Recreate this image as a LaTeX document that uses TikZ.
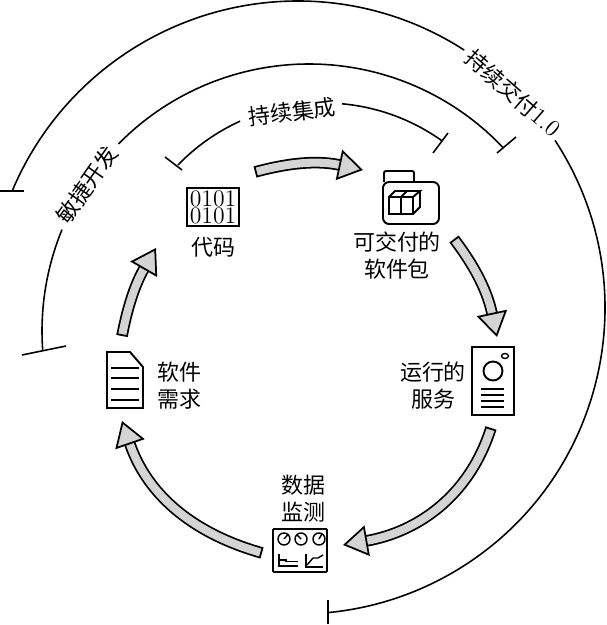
\documentclass[tikz,border=0pt]{standalone}
\usepackage{fontspec}
\usepackage{amsmath}
\usetikzlibrary{arrows.meta}
\newfontfamily\cjk{Noto Sans CJK SC}
\definecolor{flowgray}{gray}{0.83}
\tikzset{
	ring/.style={line width=0.9pt},
	icon/.style={line width=1.1pt},
	thin icon/.style={line width=0.8pt},
	label/.style={font=\cjk\fontsize{12.5}{15}\selectfont, inner sep=0pt, align=center},
	flowarrow/.style={line width=1pt, double=flowgray, double distance=4.6pt,
		{Bar[width=6.6pt,line width=1pt]}-{Triangle[length=14pt,width=17.5pt,fill=flowgray,line width=1pt]}}
}
\begin{document}
\begin{tikzpicture}[x=0.02cm,y=0.02cm]
	\useasboundingbox (0,0) rectangle (607,625);
	
	% Outer rings
	\coordinate (outerc) at (298,314);
	\coordinate (outerd) at (299,317);
	\coordinate (midc) at (309,294);
	\coordinate (innerc) at (324,319);
	\draw[ring] (outerc) ++(157.2:310) arc[start angle=157.2,end angle=90,radius=310] arc[start angle=90,end angle=57.1,radius=306];
	\draw[ring] (outerd) ++(33.2:306) arc[start angle=33.2,end angle=-84.5,radius=306];
	\draw[ring] (midc) ++(184.1:267) arc[start angle=184.1,end angle=157.7,radius=267];
	\draw[ring] (midc) ++(135.5:267) arc[start angle=135.5,end angle=43.5,radius=267];
	\draw[ring] (innerc) ++(136:203) arc[start angle=136,end angle=114.4,radius=203];
	\draw[ring] (innerc) ++(84.9:203) arc[start angle=84.9,end angle=54.4,radius=203];
	
	% Ring ends
	\draw[ring] (0,434) -- (24,434);
	\draw[ring] (328,25) -- (328,1);
	\draw[ring] (22,270) -- (66,279);
	\draw[ring] (497,472) -- (516,488);
	\draw[ring] (165,468) -- (182,455);
	\draw[ring] (448,492) -- (433,472);
	
	% Ring labels
	\node[label, rotate=7] (cilabel) at (292,513) {持续集成};
	\node[label, rotate=55] (agilelabel) at (87,440) {敏捷开发};
	\node[label, rotate=-41] (cdlabel) at (513,532) {持续交付\rmfamily\fontsize{13.5}{15}\selectfont 1.0};
	
	% Code
	\node[draw, icon, minimum width=1.04cm, minimum height=0.76cm, inner sep=0pt, align=center,
		font=\fontsize{13.5}{9.6}\selectfont] (code) at (213,418) {0101\\0101};
	\node[label] (codelabel) at (213,378) {代码};
	
	% Package
	\node[draw, icon, rounded corners=0.12cm, minimum width=1.12cm, minimum height=0.84cm] (pkg) at (411,422) {};
	\draw[icon, rounded corners=0.04cm] (384,443) -- (384,454) -- (414,454) -- (414,443);
	\draw[icon] (389,411) rectangle (413,428);
	\draw[icon] (389,428) -- (395,434) -- (420,434) -- (413,428);
	\draw[icon] (420,434) -- (420,418) -- (413,411);
	\draw[icon] (401,411) -- (401,428) -- (407,434);
	\node[label] (pkglabel) at (397,369.5) {可交付的\\软件包};
	
	% Service
	\node[draw, icon, minimum width=0.84cm, minimum height=1.36cm] (service) at (493,244) {};
	\draw[thin icon] (505,269) ellipse (3.5 and 2.5);
	\draw[icon] (493,254) circle (9.5);
	\foreach \y in {236,230,224,218}
		\draw[icon] (481,\y) -- (504,\y);
	\node[label] (servicelabel) at (433,239.5) {运行的\\服务};
	
	% Monitor
	\node[draw, icon, rounded corners=0.02cm, minimum width=1.08cm, minimum height=0.86cm] (monitor) at (300,74.5) {};
	\foreach \x in {284,301,319}
		\draw[thin icon] (\x,86) circle (6);
	\draw[thin icon] (284,86) -- (288,90.5);
	\draw[thin icon] (301,86) -- (297,90);
	\draw[thin icon] (319,86) -- (322,91);
	\draw[thin icon] (279,71) -- (279,59) -- (298,59);
	\draw[thin icon] (279,65) -- (286,65) -- (286,63.5) -- (298,63.5);
	\draw[thin icon] (306,71) -- (306,58) -- (323,58);
	\draw[thin icon] (307,60) -- (313,67) -- (318,67) -- (323,70);
	\node[label] (monitorlabel) at (303,126.5) {数据\\监测};
	
	% Requirements
	\draw[icon] (107,273) -- (130,273) -- (143,258) -- (143,217) -- (107,217) -- cycle;
	\foreach \y in {257,247,236,225}
		\draw[icon] (111,\y) -- (139,\y);
	\node[label] (reqlabel) at (179,239.5) {软件\\需求};
	
	% Flow arrows
	\coordinate (codeout) at (255,453);
	\coordinate (pkgin) at (363,455);
	\coordinate (pkgout) at (454,386);
	\coordinate (servicein) at (497,288);
	\coordinate (serviceout) at (491,197);
	\coordinate (monitorin) at (343,80);
	\coordinate (monitorout) at (262,72);
	\coordinate (reqin) at (122,204);
	\coordinate (reqout) at (122,289);
	\coordinate (codein) at (156,377);
	\draw[flowarrow] (codeout) to[out=15,in=168] (pkgin);
	\draw[flowarrow] (pkgout) to[out=-53,in=102] (servicein);
	\draw[flowarrow] (serviceout) to[out=-108,in=10] (monitorin);
	\draw[flowarrow] (monitorout) to[out=164,in=-71] (reqin);
	\draw[flowarrow] (reqout) to[out=79,in=240] (codein);
\end{tikzpicture}
\end{document}
